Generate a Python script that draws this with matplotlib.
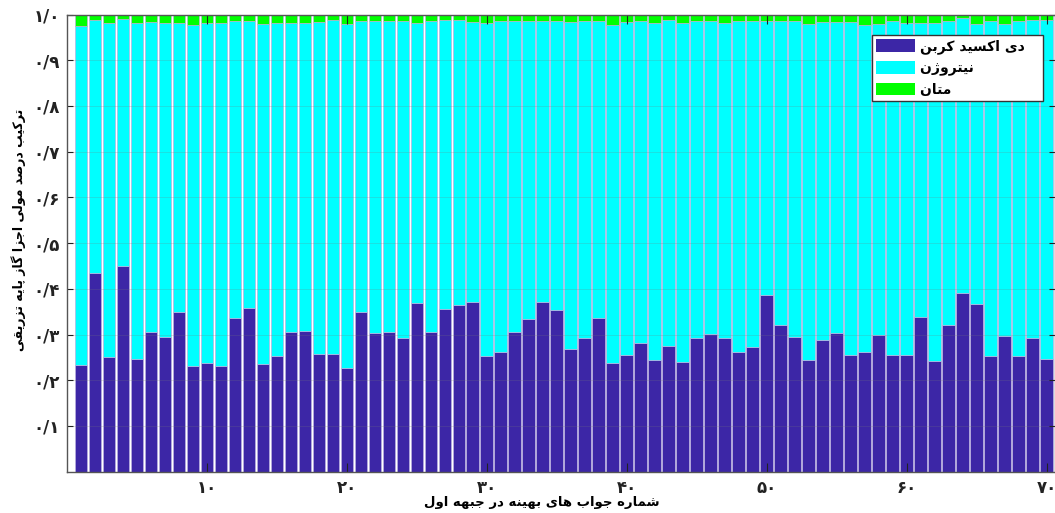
import numpy as np
import matplotlib
matplotlib.use("Agg")
import matplotlib.pyplot as plt
from matplotlib.patches import Patch

# ---------------- data ----------------
solution = np.arange(1, 71)
co2 = np.array([
    0.233, 0.434, 0.250, 0.449, 0.247, 0.306, 0.294, 0.349, 0.231, 0.237,
    0.231, 0.337, 0.359, 0.236, 0.252, 0.306, 0.308, 0.257, 0.257, 0.227,
    0.350, 0.304, 0.305, 0.292, 0.369, 0.305, 0.356, 0.365, 0.371, 0.253,
    0.261, 0.306, 0.333, 0.371, 0.354, 0.268, 0.292, 0.336, 0.238, 0.255,
    0.282, 0.244, 0.275, 0.239, 0.293, 0.301, 0.293, 0.261, 0.272, 0.387,
    0.321, 0.294, 0.244, 0.288, 0.303, 0.256, 0.261, 0.298, 0.255, 0.255,
    0.338, 0.242, 0.320, 0.390, 0.366, 0.253, 0.297, 0.253, 0.292, 0.246])
ch4 = np.array([
    0.025, 0.011, 0.018, 0.010, 0.018, 0.016, 0.018, 0.018, 0.022, 0.018,
    0.018, 0.015, 0.014, 0.020, 0.0175, 0.0175, 0.018, 0.016, 0.011, 0.021,
    0.014, 0.015, 0.015, 0.015, 0.0175, 0.0146, 0.012, 0.012, 0.0168, 0.0175,
    0.0146, 0.0146, 0.014, 0.0146, 0.0146, 0.0168, 0.015, 0.015, 0.023, 0.016,
    0.014, 0.0175, 0.012, 0.0175, 0.015, 0.014, 0.0175, 0.014, 0.014, 0.014,
    0.015, 0.015, 0.0197, 0.0168, 0.0168, 0.0168, 0.0226, 0.0197, 0.014, 0.0175,
    0.018, 0.019, 0.0146, 0.0073, 0.0197, 0.014, 0.0197, 0.0146, 0.0117, 0.012])
n2 = 1.0 - co2 - ch4

series_names = ["دی اکسید کربن", "نیتروژن", "متان"]
x_label = "شماره جواب های بهینه در جبهه اول"
y_label = "ترکیب درصد مولی اجزا گاز پایه تزریقی"
x_ticks = [10, 20, 30, 40, 50, 60, 70]
x_tick_labels = ["۱۰", "۲۰", "۳۰", "۴۰", "۵۰", "۶۰", "۷۰"]
y_ticks = [0.1, 0.2, 0.3, 0.4, 0.5, 0.6, 0.7, 0.8, 0.9, 1.0]
y_tick_labels = ["۰/۱", "۰/۲", "۰/۳", "۰/۴", "۰/۵", "۰/۶", "۰/۷", "۰/۸", "۰/۹", "۱/۰"]

# ---------------- minimal Persian shaping (matplotlib has no bidi) ----------------
FORMS = {
    '\u0627': ('\uFE8D', '\uFE8E', None, None),
    '\u0628': ('\uFE8F', '\uFE90', '\uFE91', '\uFE92'),
    '\u067E': ('\uFB56', '\uFB57', '\uFB58', '\uFB59'),
    '\u062A': ('\uFE95', '\uFE96', '\uFE97', '\uFE98'),
    '\u062C': ('\uFE9D', '\uFE9E', '\uFE9F', '\uFEA0'),
    '\u062F': ('\uFEA9', '\uFEAA', None, None),
    '\u0631': ('\uFEAD', '\uFEAE', None, None),
    '\u0632': ('\uFEAF', '\uFEB0', None, None),
    '\u0698': ('\uFB8A', '\uFB8B', None, None),
    '\u0633': ('\uFEB1', '\uFEB2', '\uFEB3', '\uFEB4'),
    '\u0634': ('\uFEB5', '\uFEB6', '\uFEB7', '\uFEB8'),
    '\u0635': ('\uFEB9', '\uFEBA', '\uFEBB', '\uFEBC'),
    '\u0642': ('\uFED5', '\uFED6', '\uFED7', '\uFED8'),
    '\u06A9': ('\uFB8E', '\uFB8F', '\uFB90', '\uFB91'),
    '\u06AF': ('\uFB92', '\uFB93', '\uFB94', '\uFB95'),
    '\u0644': ('\uFEDD', '\uFEDE', '\uFEDF', '\uFEE0'),
    '\u0645': ('\uFEE1', '\uFEE2', '\uFEE3', '\uFEE4'),
    '\u0646': ('\uFEE5', '\uFEE6', '\uFEE7', '\uFEE8'),
    '\u0648': ('\uFEED', '\uFEEE', None, None),
    '\u0647': ('\uFEE9', '\uFEEA', '\uFEEB', '\uFEEC'),
    '\u06CC': ('\uFBFC', '\uFBFD', '\uFBFE', '\uFBFF'),
}


def fa(text):
    text = text.replace('\u064A', '\u06CC').replace('\u0643', '\u06A9')
    out = []
    n = len(text)
    for i, ch in enumerate(text):
        if ch not in FORMS:
            out.append(ch)
            continue
        f = FORMS[ch]
        prev = text[i - 1] if i > 0 else ''
        nxt = text[i + 1] if i + 1 < n else ''
        join_prev = prev in FORMS and FORMS[prev][2] is not None
        join_next = f[2] is not None and nxt in FORMS
        if join_prev and join_next:
            out.append(f[3])
        elif join_prev:
            out.append(f[1])
        elif join_next:
            out.append(f[2])
        else:
            out.append(f[0])
    return ''.join(reversed(out))


# ---------------- figure ----------------
FONT = ['DejaVu Sans']
plt.rcParams['font.family'] = FONT

blue = '#3c26a6'
cyan = '#00ffff'
green = '#00ff00'
edge = '#b9b0e0'

W, H = 1055, 513
fig = plt.figure(figsize=(W / 100, H / 100), dpi=100)
ax = fig.add_axes([66.7 / W, 41.3 / H, 988.3 / W, 457.2 / H])

bw = 0.88
ax.bar(solution, co2, width=bw, color=blue, edgecolor=edge, linewidth=0.5, zorder=2)
ax.bar(solution, n2, bottom=co2, width=bw, color=cyan, edgecolor=edge, linewidth=0.5, zorder=2)
ax.bar(solution, ch4, bottom=co2 + n2, width=bw, color=green, edgecolor=edge, linewidth=0.5, zorder=2)

ax.set_xlim(0, 70.6)
ax.set_ylim(0, 1.0)

ax.set_xticks(x_ticks)
ax.set_xticklabels(x_tick_labels, fontsize=12, fontweight='bold')
ax.set_yticks(y_ticks)
ax.set_yticklabels(y_tick_labels, fontsize=12, fontweight='bold')

ax.tick_params(axis='x', direction='in', length=6.5, width=0.8, top=True, bottom=True,
               pad=5, colors='#222222')
ax.tick_params(axis='y', direction='in', length=4.3, width=0.8, left=True, right=True,
               pad=5, colors='#222222')

for s in ax.spines.values():
    s.set_color('#555555')
    s.set_linewidth(1.0)
    s.set_zorder(5)

ax.yaxis.grid(True, color='#777777', alpha=0.25, linewidth=0.6, zorder=3)
ax.set_axisbelow(False)

ax.set_xlabel(fa(x_label), fontsize=9.5, fontweight='bold')
ax.xaxis.set_label_coords(0.481, -0.053)
ax.set_ylabel(fa(y_label), fontsize=9, fontweight='bold')
ax.yaxis.set_label_coords(-0.041, 0.529)

handles = [Patch(facecolor=c, edgecolor='none') for c in (blue, cyan, green)]
leg = ax.legend(handles, [fa(s) + '   ' for s in series_names],
                loc='upper right', bbox_to_anchor=(0.988, 0.956),
                prop={'size': 10, 'weight': 'bold', 'family': FONT},
                handlelength=2.8, handleheight=1.05, handletextpad=0.35,
                labelspacing=0.5, borderpad=0.3, borderaxespad=0.0,
                fancybox=False, framealpha=1.0, edgecolor='#333333')
leg.get_frame().set_linewidth(1.0)
leg.set_zorder(10)

fig.savefig('out.png', dpi=100)
